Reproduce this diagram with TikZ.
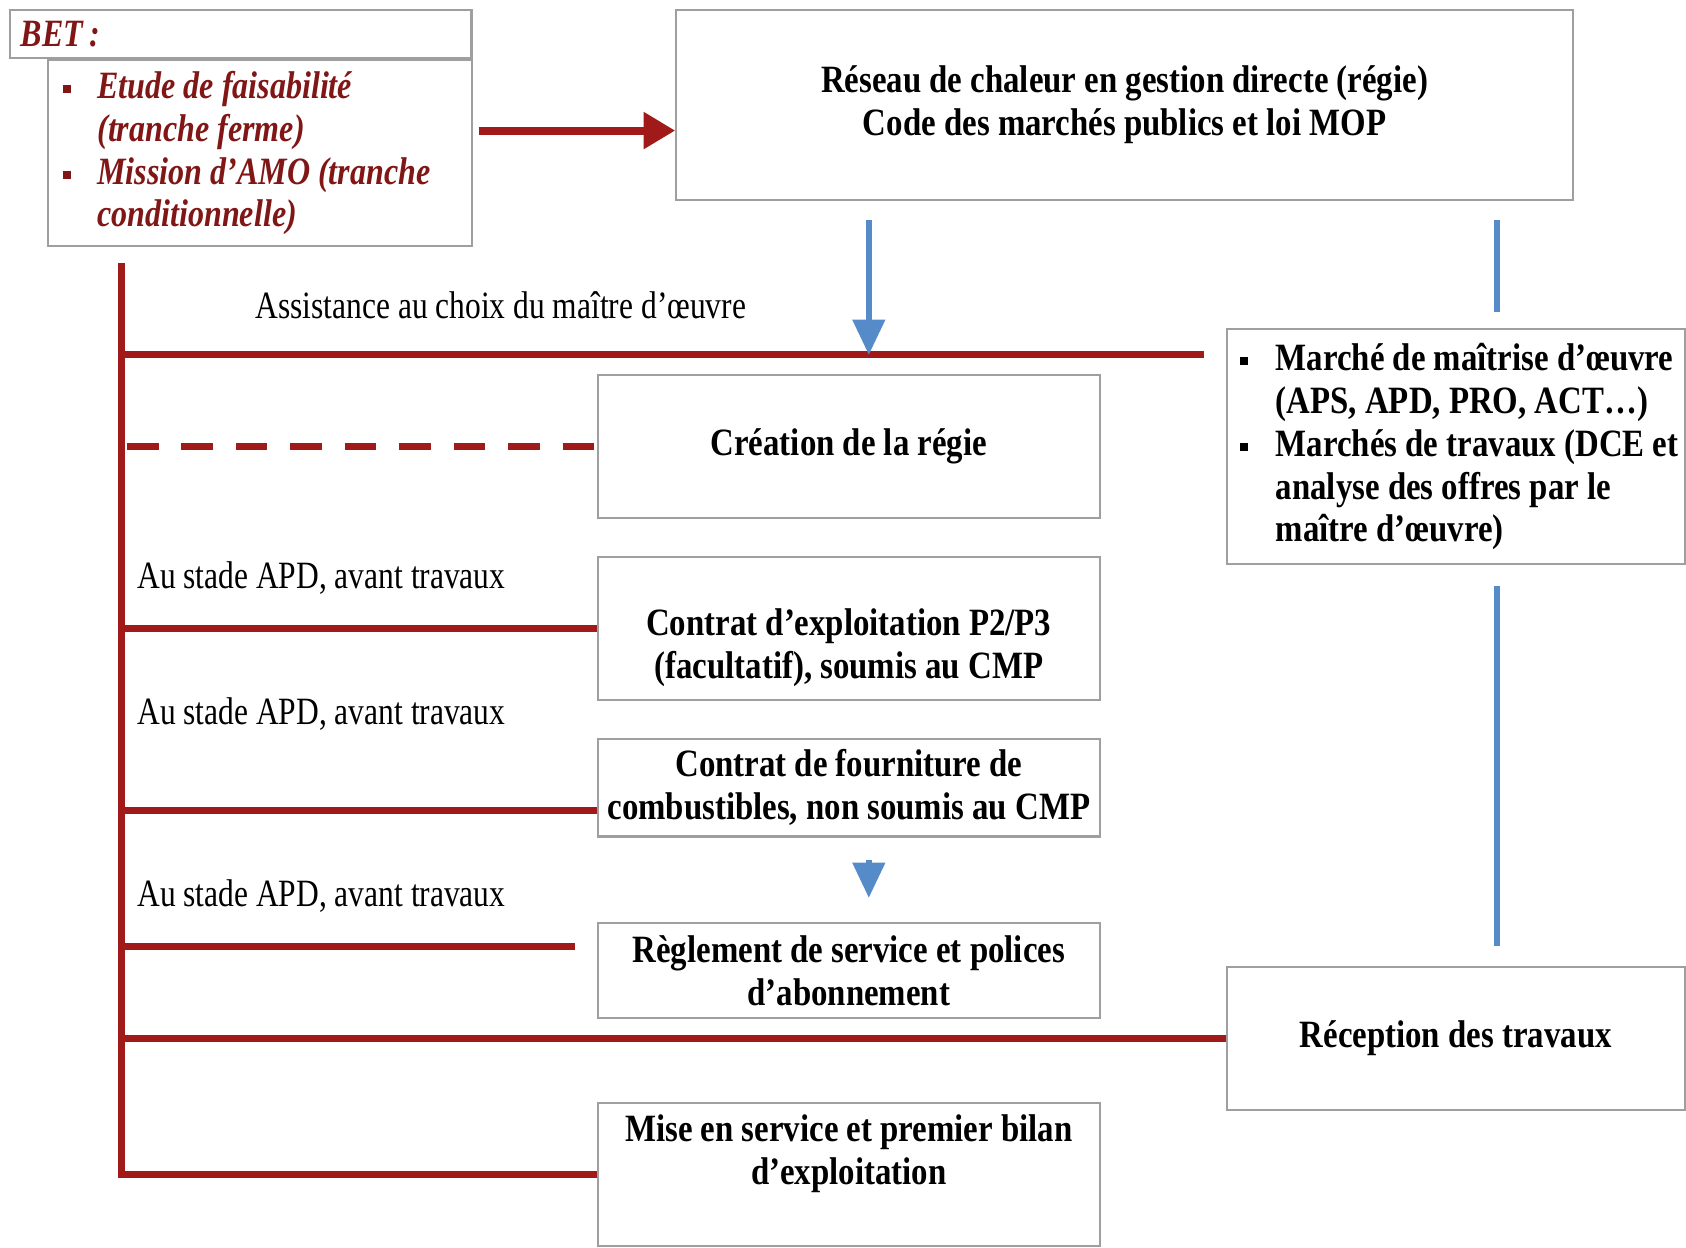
\documentclass[tikz,border=0pt]{standalone}
\usepackage{fontspec}
\setmainfont{Liberation Serif}[FakeStretch=0.815, BoldFeatures={FakeStretch=0.85}, BoldItalicFeatures={FakeStretch=0.83}]
\usepackage{tikz}
\usetikzlibrary{arrows.meta}
\usetikzlibrary{calc}

\definecolor{bordeaux}{RGB}{160,26,26}
\definecolor{betrouge}{RGB}{128,22,22}
\definecolor{bleu}{RGB}{84,139,200}

\newcommand{\puce}{\rule[0.3ex]{2.3pt}{2.3pt}}
\newcommand{\itm}{\makebox[0.34cm][l]{\puce}}
\newcommand{\retrait}{\hspace*{0.34cm}}
\newcommand{\decale}[2]{\raisebox{#1}[0pt][0pt]{\begin{tabular}{@{}c@{}}#2\end{tabular}}}

\tikzset{
	boite/.style={draw=gray!75, line width=0.6pt, align=center, font=\bfseries, inner sep=0pt, anchor=north west},
	liste/.style={draw=gray!75, line width=0.6pt, align=flush left, inner xsep=0.15cm, inner ysep=0pt, anchor=north west},
	trait/.style={draw=bordeaux, line width=2pt},
	fleche/.style={draw=bleu, line width=1.6pt},
	etiquette/.style={anchor=west, inner sep=0pt}
}

\begin{document}
\fontsize{11}{12.2}\selectfont
\begin{tikzpicture}[x=0.010753cm, y=-0.010753cm]
	\useasboundingbox (0,0) rectangle (1568,1160);

	\node[liste, text width=4.40cm, inner xsep=0.11cm, minimum height=0.48cm, font=\bfseries\itshape, text=betrouge] (bethead) at (8,8) {BET\thinspace:};
	\node[liste, text width=3.94cm, minimum height=1.86cm, font=\bfseries\itshape, text=betrouge] (betlist) at (44,55) {\itm Etude de faisabilité\\ \retrait(tranche ferme)\\ \itm Mission d'AMO (tranche\\ \retrait conditionnelle)};
	\node[boite, minimum width=8.968cm, minimum height=1.903cm] (reseau) at (628,8) {Réseau de chaleur en gestion directe (régie)\\Code des marchés publics et loi MOP};
	\node[liste, text width=4.32cm, inner xsep=0.13cm, minimum height=2.355cm, font=\bfseries] (marche) at (1140,305) {\makebox[0.36cm][l]{\puce}\mbox{Marché de maîtrise d'œuvre}\\ \hspace*{0.36cm}(APS, APD, PRO, ACT…)\\ \makebox[0.36cm][l]{\puce}\mbox{Marchés de travaux (DCE et}\\ \hspace*{0.36cm}analyse des offres par le\\ \hspace*{0.36cm}maître d'œuvre)};
	\node[boite, minimum width=5.022cm, minimum height=1.430cm] (creation) at (555,348) {Création de la régie};
	\node[boite, minimum width=5.022cm, minimum height=1.430cm] (exploit) at (555,517) {\decale{-0.30cm}{Contrat d'exploitation P2/P3\\(facultatif), soumis au CMP}};
	\node[boite, minimum width=5.022cm, minimum height=0.979cm] (fourniture) at (555,686) {Contrat de fourniture de\\combustibles, non soumis au CMP};
	\node[boite, minimum width=5.022cm, minimum height=0.957cm] (reglement) at (555,857) {Règlement de service et polices\\d'abonnement};
	\node[boite, minimum width=4.58cm, minimum height=1.430cm] (reception) at (1140,898) {Réception des travaux};
	\node[boite, minimum width=5.022cm, minimum height=1.430cm] (miseserv) at (555,1025) {\decale{0.11cm}{Mise en service et premier bilan\\d'exploitation}};

	\node[etiquette] (assist) at (237,284) {Assistance au choix du maître d'œuvre};
	\node[etiquette] (apd1) at (127,538) {Au stade APD, avant travaux};
	\node[etiquette] (apd2) at (127,664) {Au stade APD, avant travaux};
	\node[etiquette] (apd3) at (127,833) {Au stade APD, avant travaux};

	\coordinate (haut) at (113,245);
	\coordinate (b1) at (808,205);
	\coordinate (c1) at (1120,330);
	\coordinate (d1) at (1392,205);
	\coordinate (d2) at (1392,290);
	\coordinate (d3) at (1392,545);
	\coordinate (d4) at (1392,880);
	\coordinate (r1) at ($(betlist.east)+(5,-21)$);

	\draw[trait] (haut) |- (miseserv.west);
	\draw[trait] (haut |- c1) -- (c1);
	\draw[trait, dash pattern=on 9pt off 6.5pt] ($(haut |- creation.west)+(5,0)$) -- (creation.west);
	\draw[trait] (haut |- exploit.west) -- (exploit.west);
	\draw[trait] ($(haut |- fourniture.south west)+(0,-25)$) -- ($(fourniture.south west)+(0,-25)$);
	\draw[trait] ($(haut |- reglement.north west)+(0,23)$) -- ($(reglement.north west)+(-20,23)$);
	\draw[trait] (haut |- reception.west) -- (reception.west);
	\draw[trait, line width=2.3pt, -{Triangle[width=10pt, length=9pt]}] (r1) -- (r1 -| reseau.west);

	\draw[fleche, -{Triangle[width=9pt, length=10pt]}] (b1) -- (b1 |- c1);
	\draw[fleche] (d1) -- (d2);
	\draw[fleche] (d3) -- (d4);
	\draw[fleche, -{Triangle[width=9pt, length=10pt]}] ($(fourniture.south -| b1)+(0,21)$) -- ($(reglement.north -| b1)+(0,-22)$);
\end{tikzpicture}
\end{document}
